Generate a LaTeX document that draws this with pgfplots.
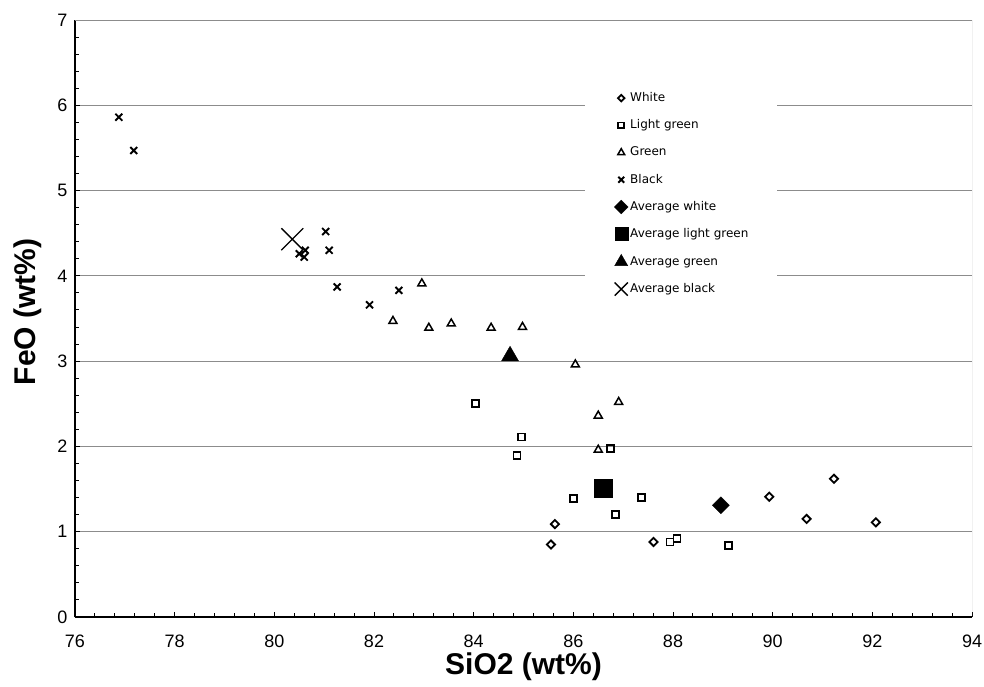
\documentclass[border=0pt]{standalone}
\usepackage{pgfplots}
\pgfplotsset{compat=1.18}
\usepackage{fontspec}
\setmainfont{Liberation Sans}
\newfontfamily\legendfont{DejaVu Sans}

\begin{document}
\begin{tikzpicture}
\path[use as bounding box] (-75pt,-69pt) rectangle (909pt,617pt);
\begin{axis}[
  at={(0pt,0pt)}, anchor=south west,
  scale only axis, width=897pt, height=597pt,
  xmin=76, xmax=94, ymin=0, ymax=7,
  xtick={76,78,...,94}, ytick={0,1,...,7},
  minor x tick num=4, minor y tick num=4,
  axis lines*=left,
  axis line style={black, line width=1.2pt},
  tick align=inside,
  major tick length=5pt, minor tick length=4pt,
  tick style={black, line width=1pt},
  ymajorgrids, major grid style={black!45, line width=0.9pt},
  /pgf/number format/assume math mode=true,
  tick label style={font=\fontsize{18}{21}\selectfont},
  yticklabel style={xshift=-4pt},
  xticklabel style={yshift=-14pt},
  xlabel={\textbf{SiO2 (wt\%)}},
  ylabel={\textbf{FeO (wt\%)}},
  xlabel style={font=\fontsize{30}{36}\selectfont, at={(axis description cs:0.5,0)}, anchor=center, yshift=-50pt},
  ylabel style={font=\fontsize{30}{36}\selectfont, at={(axis description cs:-0.0524,0.511)}, anchor=center},
  only marks,
  legend image code/.code={\path[draw=none, fill=none] (-7pt,-7pt) rectangle (7pt,7pt); \draw[#1] plot coordinates {(0pt,0pt)};},
  legend cell align=left,
  legend style={at={(0.5686,0.8945)}, anchor=north west, draw=none, fill=white,
    font=\legendfont\fontsize{12}{14}\selectfont,
    inner xsep=29pt, inner ysep=8pt, row sep=13.2pt, column sep=2pt,
    nodes={inner sep=0pt, text height=9pt, text depth=2.5pt}},
]
% individual analyses
\addplot[mark=square, mark size=2.9pt, mark options={rotate=45, fill=white, draw=black, line width=1.8pt},
  legend image post style={mark size=2.3pt}]
  coordinates {(85.63,1.09) (85.55,0.85) (87.61,0.88) (89.93,1.41) (90.68,1.15) (91.23,1.62) (92.07,1.11)};
\addlegendentry{White}
\addplot[mark=square, mark size=3.5pt, mark options={fill=white, draw=black, line width=1.8pt},
  legend image post style={mark size=2.9pt}]
  coordinates {(84.03,2.50) (84.96,2.11) (84.87,1.89) (86.74,1.98) (86.01,1.39) (87.37,1.40) (86.85,1.20) (87.94,0.88) (88.08,0.92) (89.11,0.84)};
\addlegendentry{Light green}
\addplot[mark=triangle, mark size=4.6pt, mark options={fill=white, draw=black, line width=1.5pt},
  legend image post style={mark size=3.9pt}]
  coordinates {(82.96,3.91) (82.38,3.47) (83.10,3.39) (83.55,3.44) (84.35,3.39) (84.98,3.40) (86.04,2.96) (86.50,2.36) (86.50,1.96) (86.91,2.52)};
\addlegendentry{Green}
\addplot[mark=x, mark size=4.9pt, mark options={draw=black, line width=1.9pt},
  legend image post style={mark size=4.1pt}]
  coordinates {(76.88,5.86) (77.18,5.47) (80.50,4.26) (80.62,4.30) (80.60,4.22) (81.03,4.52) (81.10,4.30) (81.26,3.87) (82.50,3.83) (81.91,3.66)};
\addlegendentry{Black}
% group averages
\addplot[mark=square*, mark size=6pt, mark options={rotate=45, fill=black, draw=black},
  legend image post style={mark size=4.9pt}]
  coordinates {(88.96,1.31)};
\addlegendentry{Average white}
\addplot[mark=square*, mark size=8.6pt, mark options={fill=black, draw=black},
  legend image post style={mark size=6.5pt}]
  coordinates {(86.60,1.51)};
\addlegendentry{Average light green}
\addplot[mark=triangle*, mark size=9.8pt, mark options={fill=black, draw=black},
  legend image post style={mark size=7.5pt}]
  coordinates {(84.73,3.06)};
\addlegendentry{Average green}
\addplot[mark=x, mark size=15.5pt, mark options={draw=black, line width=1.3pt},
  legend image post style={mark size=9.3pt}]
  coordinates {(80.36,4.43)};
\addlegendentry{Average black}
% plot-area frame on the top and right
\draw[black!45, line width=1pt] (rel axis cs:0,1) -- (rel axis cs:1,1) -- (rel axis cs:1,0);
\end{axis}
\end{tikzpicture}
\end{document}
